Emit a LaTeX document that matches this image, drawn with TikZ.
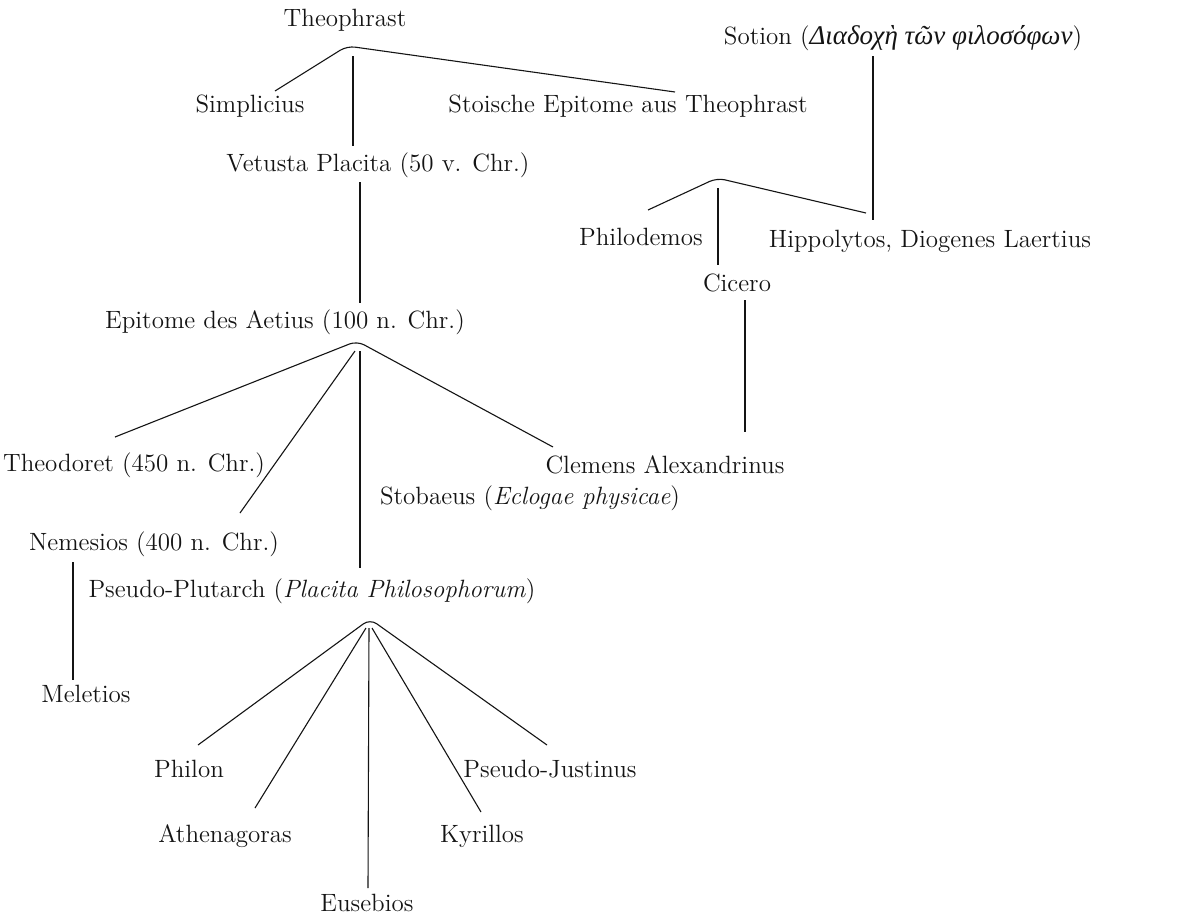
\documentclass[tikz,border=0pt]{standalone}
\usepackage{fontspec}
\newfontfamily\greekfont[Scale=1.08]{Liberation Serif}
\usetikzlibrary{positioning}
\definecolor{ink}{HTML}{141414}
\tikzset{
  wit/.style={inner sep=0pt, font=\fontsize{12.5}{14}\selectfont, text=ink},
  stem/.style={draw=ink, line width=0.55pt},
  fork/.style={stem, rounded corners=4pt},
}
\newcommand{\grk}[1]{{\greekfont\itshape #1}}

\begin{document}
\begin{tikzpicture}[x=0.5pt, y=-0.5pt]
  \path[fill=white] (0,0) rectangle (1200,922);

  % witnesses
  \node[wit] (theo) at (345,20) {Theophrast};
  \node[wit] (sotion) at (903,38) {Sotion (\grk{Διαδοχὴ τῶν φιλοσόφων})};
  \node[wit] (simpl) at (250,106) {Simplicius};
  \node[wit] (stoa) at (628,106) {Stoische Epitome aus Theophrast};
  \node[wit] (vetusta) at (378,165) {Vetusta Placita (50 v. Chr.)};
  \node[wit] (philod) at (641,237) {Philodemos};
  \node[wit] (hippol) at (930,241) {Hippolytos, Diogenes Laertius};
  \node[wit] (cicero) at (737,283) {Cicero};
  \node[wit] (aetius) at (285,322) {Epitome des Aetius (100 n. Chr.)};
  \node[wit] (theodoret) at (134,465) {Theodoret (450 n. Chr.)};
  \node[wit] (clemens) at (665,465) {Clemens Alexandrinus};
  \node[wit] (stobaeus) at (530,498) {Stobaeus (\textit{Eclogae physicae})};
  \node[wit] (nemesios) at (154,544) {Nemesios (400 n. Chr.)};
  \node[wit] (pplut) at (312,591) {Pseudo-Plutarch (\textit{Placita Philosophorum})};
  \node[wit] (meletios) at (86,694) {Meletios};
  \node[wit] (philon) at (189,769) {Philon};
  \node[wit] (pjust) at (550,769) {Pseudo-Justinus};
  \node[wit] (athen) at (225,836) {Athenagoras};
  \node[wit] (kyrill) at (482,836) {Kyrillos};
  \node[wit] (euseb) at (367,903) {Eusebios};

  % fork tops and line ends
  \coordinate (theo-top) at (347,46);
  \coordinate (theo-v) at (353,56);
  \coordinate (simpl-in) at (275,91);
  \coordinate (stoa-in) at (675,92);
  \coordinate (vet-in) at (353,146);
  \coordinate (sot-out) at (873,56);
  \coordinate (hip-in) at (873,220);
  \coordinate (stoa-top) at (717,178);
  \coordinate (stoa-v) at (718,188);
  \coordinate (philod-in) at (648,210);
  \coordinate (hip-in2) at (866,213);
  \coordinate (cic-in) at (718,265);
  \coordinate (cic-out) at (745,300);
  \coordinate (clem-in) at (745,432);
  \coordinate (vet-out) at (360,182);
  \coordinate (aet-in) at (360,303);
  \coordinate (aet-top) at (357,341);
  \coordinate (aet-v) at (360,351);
  \coordinate (aet-n) at (355,351);
  \coordinate (theod-in) at (115,437);
  \coordinate (stob-in) at (553,447);
  \coordinate (nem-in) at (240,513);
  \coordinate (pp-in) at (360,568);
  \coordinate (nem-out) at (73,562);
  \coordinate (mel-in) at (73,680);
  \coordinate (pp-top) at (370,619);
  \coordinate (pp-a) at (366,628);
  \coordinate (pp-e) at (369,628);
  \coordinate (pp-k) at (372,628);
  \coordinate (philon-in) at (198,745);
  \coordinate (pjust-in) at (547,745);
  \coordinate (athen-in) at (255,808);
  \coordinate (eus-in) at (368,888);
  \coordinate (kyr-in) at (481,812);

  % stemma
  \draw[fork] (simpl-in) -- (theo-top) -- (stoa-in);
  \draw[stem] (theo-v) -- (vet-in);
  \draw[stem] (sot-out) -- (hip-in);
  \draw[fork] (philod-in) -- (stoa-top) -- (hip-in2);
  \draw[stem] (stoa-v) -- (cic-in);
  \draw[stem] (cic-out) -- (clem-in);
  \draw[stem] (vet-out) -- (aet-in);
  \draw[fork] (theod-in) -- (aet-top) -- (stob-in);
  \draw[stem] (aet-n) -- (nem-in);
  \draw[stem] (aet-v) -- (pp-in);
  \draw[stem] (nem-out) -- (mel-in);
  \draw[fork] (philon-in) -- (pp-top) -- (pjust-in);
  \draw[stem] (pp-a) -- (athen-in);
  \draw[stem] (pp-e) -- (eus-in);
  \draw[stem] (pp-k) -- (kyr-in);
\end{tikzpicture}
\end{document}
